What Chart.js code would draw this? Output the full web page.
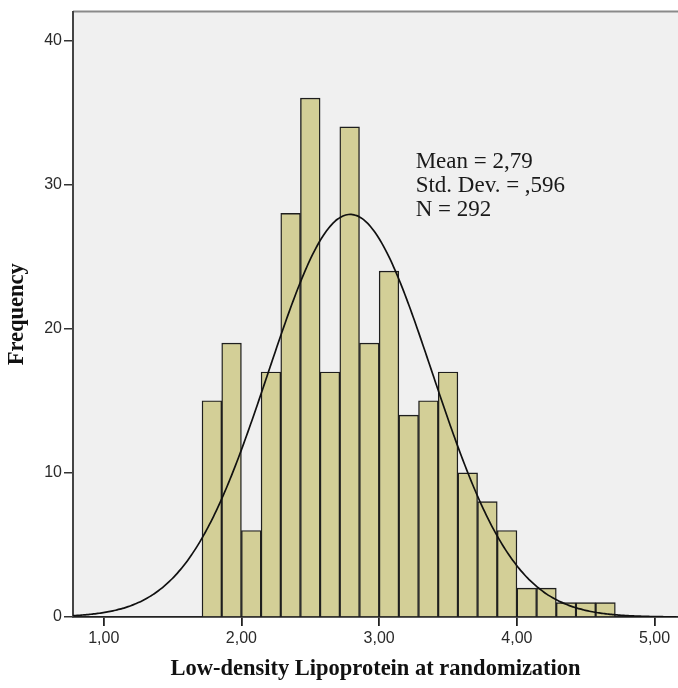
<!DOCTYPE html>
<html>
<head>
<meta charset="utf-8">
<script src="https://cdn.jsdelivr.net/npm/chart.js@4/dist/chart.umd.min.js"></script>
<style>
  html, body { margin: 0; padding: 0; background: #fff; }
  #wrap { width: 678px; height: 688px; position: relative; }
</style>
</head>
<body>
<div id="wrap"><canvas id="histChart"></canvas></div>
<script>
// histogram data
const BIN_START = 1.714;
const BIN_WIDTH = 0.1429;
const counts = [15, 19, 6, 17, 28, 36, 17, 34, 19, 24, 14, 15, 17, 10, 8, 6, 2, 2, 1, 1, 1];
const xTicks = [1, 2, 3, 4, 5];
const yTicks = [0, 10, 20, 30, 40];
const statLines = ["Mean = 2,79", "Std. Dev. = ,596", "N = 292"];

// fitted normal curve parameters (as printed on the chart)
const MEAN = 2.79;
const SD = 0.596;
const N = 292;

const X_MIN = 0.777, X_MAX = 5.17;

const barData = counts.map((c, i) => ({ x: BIN_START + (i + 0.5) * BIN_WIDTH, y: c }));

const curveData = [];
for (let x = X_MIN; x <= X_MAX + 1e-9; x += 0.02) {
    const z = (x - MEAN) / SD;
    curveData.push({ x: x, y: N * BIN_WIDTH * Math.exp(-0.5 * z * z) / (SD * Math.sqrt(2 * Math.PI)) });
}

const fmt = v => v.toFixed(2).replace(".", ",");

// plot background, top frame line and the stats box
const decor = {
    id: "decor",
    beforeDraw(chart) {
        const { ctx, chartArea: a } = chart;
        ctx.save();
        ctx.fillStyle = "#f0f0f0";
        ctx.fillRect(a.left, a.top, a.right - a.left, a.bottom - a.top);
        ctx.strokeStyle = "#8a8a8a";
        ctx.lineWidth = 2;
        ctx.beginPath();
        ctx.moveTo(a.left, a.top);
        ctx.lineTo(a.right, a.top);
        ctx.stroke();
        ctx.restore();
    },
    afterDraw(chart) {
        const { ctx, scales } = chart;
        ctx.save();
        ctx.fillStyle = "#1a1a1a";
        ctx.font = "23px 'Liberation Serif', serif";
        ctx.textBaseline = "alphabetic";
        const x0 = scales.x.getPixelForValue(3.265);
        const y0 = scales.y.getPixelForValue(31.18);
        statLines.forEach((t, i) => ctx.fillText(t, x0, y0 + i * 24.3));
        ctx.restore();
    }
};

new Chart(document.getElementById("histChart").getContext("2d"), {
    data: {
        datasets: [{
            type: "bar",
            data: barData,
            backgroundColor: "#d3cf97",
            borderColor: "#1e1e1e",
            borderWidth: 1.4,
            barPercentage: 1,
            categoryPercentage: 1,
            order: 2
        }, {
            type: "line",
            data: curveData,
            borderColor: "#111",
            borderWidth: 1.7,
            pointRadius: 0,
            tension: 0.3,
            fill: false,
            order: 1
        }]
    },
    options: {
        responsive: true,
        maintainAspectRatio: false,
        animation: false,
        layout: { padding: { top: 10, right: 0, left: 0, bottom: 0 } },
        plugins: { legend: { display: false }, tooltip: { enabled: false } },
        scales: {
            x: {
                type: "linear",
                offset: false,
                min: X_MIN,
                max: X_MAX,
                afterBuildTicks: s => { s.ticks = xTicks.map(v => ({ value: v })); },
                afterFit: s => { s.height = 71; },
                ticks: { callback: v => fmt(v), color: "#2a2a2a", padding: 3, maxRotation: 0,
                         font: { family: "'Liberation Sans', Arial, sans-serif", size: 16 } },
                grid: { offset: false, drawOnChartArea: false, drawTicks: true, tickLength: 9, color: "#222", lineWidth: 1.8 },
                border: { display: true, color: "#222", width: 1.8 },
                title: { display: true, text: "Low-density Lipoprotein at randomization", color: "#111",
                         font: { family: "'Liberation Serif', 'Times New Roman', serif", size: 22.5, weight: "bold" },
                         padding: { top: 0, bottom: 5 } }
            },
            y: {
                min: 0,
                max: 42,
                afterBuildTicks: s => { s.ticks = yTicks.map(v => ({ value: v })); },
                afterFit: s => { s.width = 73; },
                ticks: { color: "#2a2a2a", padding: 2,
                         font: { family: "'Liberation Sans', Arial, sans-serif", size: 16 } },
                grid: { drawOnChartArea: false, drawTicks: true, tickLength: 9, color: "#333", lineWidth: 1.5 },
                border: { display: true, color: "#444", width: 2 },
                title: { display: true, text: "Frequency", color: "#111",
                         font: { family: "'Liberation Serif', 'Times New Roman', serif", size: 22.5, weight: "bold" },
                         padding: { top: 4, bottom: 0 } }
            }
        }
    },
    plugins: [decor]
});
</script>
</body>
</html>
